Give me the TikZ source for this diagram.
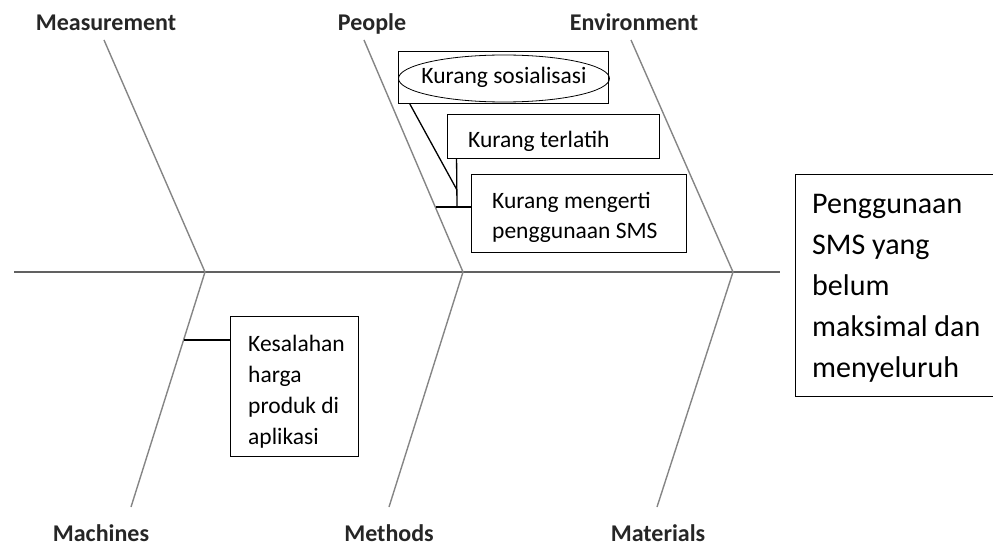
\documentclass[tikz,border=0pt]{standalone}
\usepackage{fontspec}
\setmainfont{Carlito}
\usetikzlibrary{shapes.geometric}
\newcommand\catfont{\fontsize{24}{28}\selectfont\bfseries}
\newcommand\causefont{\fontsize{23.5}{30}\selectfont}
\newcommand\kesfont{\fontsize{23.5}{31}\selectfont}
\newcommand\headfont{\fontsize{30}{41}\selectfont}
\begin{document}
\begin{tikzpicture}[x=1pt,y=-1pt,
  spine/.style={draw=black!62, line width=2pt},
  bone/.style={draw=black!48, line width=1.4pt},
  cat/.style={font=\catfont, text=black!85, inner sep=0pt, anchor=base},
  box/.style={draw=black, line width=0.9pt, inner sep=0pt},
  link/.style={draw=black, line width=1.3pt},
  txt/.style={inner sep=0pt, align=left, text=black, anchor=base west}]
\clip (0,0) rectangle (993,548);

% main spine and the joints of the bones
\coordinate (tail) at (14,272);
\coordinate (head) at (780,272);
\coordinate (j1) at (205,272);
\coordinate (j2) at (463,272);
\coordinate (j3) at (733,272);
\draw[spine] (tail) -- (head);

% free ends of the six bones
\coordinate (tMeas) at (104,40);
\coordinate (tPeop) at (364,40);
\coordinate (tEnv)  at (631,40);
\coordinate (bMach) at (131,507);
\coordinate (bMeth) at (389,507);
\coordinate (bMat)  at (657,507);
\draw[bone] (tMeas) -- (j1) -- (bMach);
\draw[bone] (tPeop) -- (j2) -- (bMeth);
\draw[bone] (tEnv)  -- (j3) -- (bMat);

% category labels (base line given)
\node[cat] (lMeas) at (106,31)  {Measurement};
\node[cat] (lPeop) at (372,31)  {People};
\node[cat] (lEnv)  at (634,31)  {Environment};
\node[cat] (lMach) at (101,541) {Machines};
\node[cat] (lMeth) at (389,541) {Methods};
\node[cat] (lMat)  at (658,541) {Materials};

% causes on the People bone
\node[box, minimum width=210, minimum height=52] (sos) at (503,77) {};
\node[draw=black, line width=0.8pt, ellipse, minimum width=211, minimum height=47] (sosel) at (504,78.5) {};
\node[txt, font=\causefont, anchor=base] (sostx) at (504,83.3) {Kurang sosialisasi};

\node[box, minimum width=212, minimum height=44] (ter) at (553,136) {};
\begin{scope}
  \clip (ter.north west) rectangle ([yshift=-10pt]ter.south east);
  \node[txt, font=\causefont] (tertx) at (468,147.3) {Kurang terlatih};
\end{scope}

\node[box, minimum width=215, minimum height=78] (men) at (578.5,213) {};
\node[txt, font=\causefont] (mentx) at (492,239) {Kurang mengerti\\penggunaan SMS};

\coordinate (pBone) at (436,207);
\coordinate (pJoin) at (457,207);
\coordinate (pKink) at (457,190);
\draw[link] ([xshift=12pt]sos.south west) -- (pKink);
\draw[link] ([xshift=10pt]ter.south west) -- (pJoin);
\draw[link] (pBone) -- (pJoin -| men.west);

% cause on the Machines bone
\node[box, minimum width=128, minimum height=140] (kes) at (294,386) {};
\node[txt, font=\kesfont] (kestx) at (248,444) {Kesalahan\\harga\\produk di\\aplikasi};
\coordinate (mBone) at (183.5,340);
\draw[link] (mBone) -- (mBone -| kes.west);

% effect box at the head
\node[box, minimum width=205, minimum height=222] (eff) at (897.5,285) {};
\node[txt, font=\headfont] (efftx) at (812,377) {Penggunaan\\SMS yang\\belum\\maksimal dan\\menyeluruh};
\end{tikzpicture}
\end{document}
